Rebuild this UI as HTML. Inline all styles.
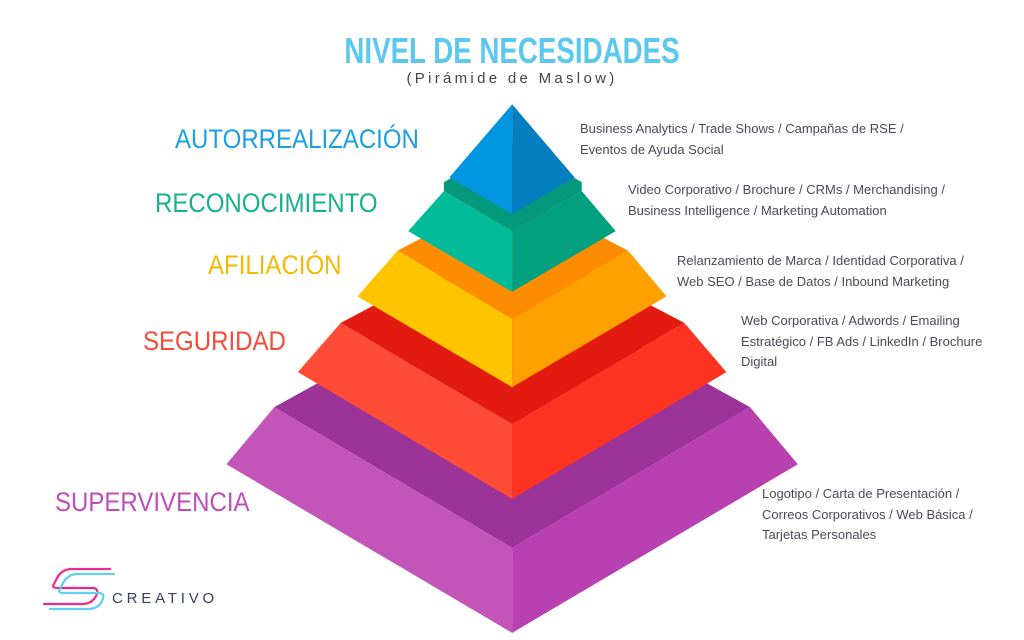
<!DOCTYPE html>
<html><head><meta charset="utf-8"><style>
body{margin:0;width:1024px;height:640px;background:#fff;overflow:hidden;position:relative;font-family:"Liberation Sans",sans-serif}
.t{position:absolute;white-space:nowrap}
.lab{font-size:27px;line-height:30px;transform:scaleX(0.89);transform-origin:0 0}
.d{font-size:13px;line-height:20.5px;color:#4a4a55}
</style></head><body>
<div class="t" style="left:0;width:1024px;text-align:center;top:30px;font-size:36px;font-weight:bold;color:#5cc8ee;transform:scaleX(0.77);letter-spacing:0px">NIVEL DE NECESIDADES</div>
<div class="t" style="left:0;width:1024px;text-align:center;top:70px;font-size:15px;color:#444;letter-spacing:3.3px">(Pirámide de Maslow)</div>

<svg width="1024" height="640" style="position:absolute;left:0;top:0">
<g transform="translate(220,90) scale(0.35714)">
<polygon points="152,888 818,520 1484,888 818,1282" fill="#9b3399"/>
<polygon points="152,888 818,1282 818,1520 18,1048" fill="#c455b8"/>
<polygon points="818,1282 1484,888 1618,1048 818,1520" fill="#b940b0"/>
<polygon points="338,652 818,400 1300,652 818,935" fill="#e31a10"/>
<polygon points="338,652 818,935 818,1145 218,790" fill="#ff4c36"/>
<polygon points="818,935 1300,652 1418,790 818,1145" fill="#ff3322"/>
<polygon points="497,450 818,280 1143,450 818,640" fill="#fd8c00"/>
<polygon points="497,450 818,640 818,832 385,578" fill="#fec400"/>
<polygon points="818,640 1143,450 1250,578 818,832" fill="#fea000"/>
<polygon points="627,258 818,150 1013,258 1013,283 818,395 627,283" fill="#04997a"/>
<polygon points="627,283 818,395 818,565 527,395" fill="#02bb9a"/>
<polygon points="818,395 1013,283 1108,395 818,565" fill="#02a07f"/>
<polygon points="818,40 642,245 818,348" fill="#0396e0"/>
<polygon points="818,40 993,245 818,348" fill="#037fc0"/>
</g>
<g fill="none" stroke-width="2.2" stroke-linecap="round">
<path d="M110,569 H72 Q62,569 57,578 L54,584 Q51,588 58,588 H92 Q100,588 96,596 Q92,604 82,604 H44" stroke="#ee2a8f"/>
<path d="M114,574 H78 Q68,574 63,583 L60,589 Q57,593 64,593 H98 Q106,593 102,601 Q98,609 88,609 H50" stroke="#5fd0ee"/>
</g>
</svg>

<div class="t lab" style="left:175px;top:124px;color:#1a9fe0">AUTORREALIZACIÓN</div>
<div class="t lab" style="left:155px;top:188px;color:#14b08f">RECONOCIMIENTO</div>
<div class="t lab" style="left:208px;top:250px;color:#f6b800">AFILIACIÓN</div>
<div class="t lab" style="left:143px;top:326px;color:#f54a3a">SEGURIDAD</div>
<div class="t lab" style="left:55px;top:487px;color:#c04cbb">SUPERVIVENCIA</div>

<div class="t d" style="left:580px;top:119px">Business Analytics / Trade Shows / Campañas de RSE /<br>Eventos de Ayuda Social</div>
<div class="t d" style="left:628px;top:180px">Video Corporativo / Brochure / CRMs / Merchandising /<br>Business Intelligence / Marketing Automation</div>
<div class="t d" style="left:677px;top:251px">Relanzamiento de Marca / Identidad Corporativa /<br>Web SEO / Base de Datos / Inbound Marketing</div>
<div class="t d" style="left:741px;top:311px">Web Corporativa / Adwords / Emailing<br>Estratégico / FB Ads / LinkedIn / Brochure<br>Digital</div>
<div class="t d" style="left:762px;top:484px">Logotipo / Carta de Presentación /<br>Correos Corporativos / Web Básica /<br>Tarjetas Personales</div>

<div class="t" style="left:112px;top:590px;font-size:15px;letter-spacing:3.8px;color:#3a3f5a">CREATIVO</div>
</body></html>
